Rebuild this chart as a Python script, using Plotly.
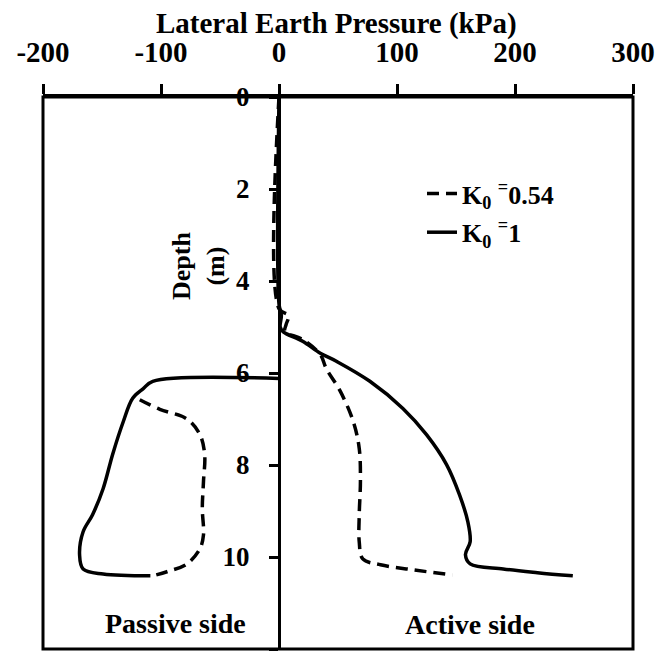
import plotly.graph_objects as go

# K0 = 1 (solid), active side
act_solid_x = [0, 0, 2, 1, 3.4, 20, 35, 49, 77, 105, 125, 142, 153, 160, 162, 158, 162, 190, 219, 249]
act_solid_y = [0, 4.5, 4.75, 5.0, 5.1, 5.31, 5.57, 5.75, 6.18, 6.77, 7.34, 7.99, 8.65, 9.23, 9.67, 9.95, 10.15, 10.26, 10.34, 10.41]
# K0 = 1 (solid), passive side
pas_solid_x = [0, -107, -115, -124, -132, -141, -149, -158, -166, -169, -166, -149, -109]
pas_solid_y = [6.12, 6.18, 6.34, 6.55, 7.06, 7.77, 8.51, 9.08, 9.45, 9.95, 10.26, 10.37, 10.41]

# K0 = 0.54 (dashed), active side
act_dash_x = [0, 0, 8, 6, 5, 20, 35, 40, 52, 63, 68, 69, 68, 68, 71, 86, 114, 147]
act_dash_y = [0, 4.6, 4.75, 4.95, 5.1, 5.27, 5.6, 5.9, 6.4, 7.06, 7.64, 8.36, 9.08, 9.67, 10.04, 10.17, 10.28, 10.39]
# K0 = 0.54 (dashed), passive side
pas_dash_x = [-118, -101, -78, -67, -63, -64, -65, -64, -67, -78, -95, -107]
pas_dash_y = [6.58, 6.79, 7.0, 7.34, 7.77, 8.36, 8.95, 9.52, 9.82, 10.15, 10.32, 10.41]

x_ticks = [-200, -100, 0, 100, 200, 300]
y_ticks = [0, 2, 4, 6, 8, 10, 12]

FONT = "Liberation Serif"
DASH = "12px,7px"

# plot box in page pixels: x 43..633, y 97..649 (page body has an 8px margin)
PW, PH = 590, 552


def px(x):
    return (x - 43) / PW


def py(y):
    return (649 - y) / PH


fig = go.Figure()

fig.add_trace(go.Scatter(x=act_dash_x, y=act_dash_y, mode="lines",
                         line=dict(color="black", width=3.5, dash=DASH, shape="spline"),
                         name="<b>K<sub>0</sub> <sup>=</sup>0.54</b>",
                         legendgroup="a"))
fig.add_trace(go.Scatter(x=pas_dash_x, y=pas_dash_y, mode="lines",
                         line=dict(color="black", width=3.5, dash=DASH, shape="spline"),
                         showlegend=False, legendgroup="a"))
fig.add_trace(go.Scatter(x=act_solid_x, y=act_solid_y, mode="lines",
                         line=dict(color="black", width=3.5, shape="spline"),
                         name="<b>K<sub>0</sub> <sup>=</sup>1</b>",
                         legendgroup="b"))
fig.add_trace(go.Scatter(x=pas_solid_x, y=pas_solid_y, mode="lines",
                         line=dict(color="black", width=3.5, shape="spline"),
                         showlegend=False, legendgroup="b"))

fig.update_layout(
    width=670, height=653,
    margin=dict(l=35, r=670 - 35 - PW, t=89, b=653 - 89 - PH),
    paper_bgcolor="white", plot_bgcolor="white",
    font=dict(family=FONT, size=26, color="black"),
    showlegend=True,
    legend=dict(x=px(422), y=py(170), xanchor="left", yanchor="top",
                bgcolor="rgba(0,0,0,0)", font=dict(size=26, family=FONT),
                tracegroupgap=2),
    xaxis=dict(side="top", range=[-200, 300], tickvals=x_ticks,
               ticktext=["<b>%d</b>" % v for v in x_ticks],
               ticks="outside", ticklen=10, tickwidth=3, tickcolor="black",
               showline=True, linewidth=3, linecolor="black",
               showgrid=False, zeroline=False, ticklabelstandoff=10,
               automargin=False, tickfont=dict(size=29, family=FONT)),
    yaxis=dict(range=[12, 0], tickvals=y_ticks,
               ticktext=["<b>%d</b>" % v for v in y_ticks],
               anchor="free", position=0.4,
               ticks="outside", ticklen=9, tickwidth=3, tickcolor="black",
               showline=True, linewidth=3, linecolor="black",
               showgrid=False, zeroline=False, ticklabelstandoff=14,
               automargin=False, tickfont=dict(size=27, family=FONT)),
    shapes=[dict(type="rect", xref="paper", yref="paper", x0=0, x1=1, y0=0, y1=1,
                 line=dict(color="black", width=3))],
    annotations=[
        dict(text="<b>Lateral Earth Pressure (kPa)</b>", xref="paper", yref="paper",
             x=px(336), y=py(24), xanchor="center", yanchor="middle",
             showarrow=False, font=dict(size=29, family=FONT)),
        dict(text="<b>Depth<br>(m)</b>", xref="paper", yref="paper",
             x=px(198), y=py(266), xanchor="center", yanchor="middle",
             textangle=-90, showarrow=False, font=dict(size=26, family=FONT)),
        dict(text="<b>Passive side</b>", xref="paper", yref="paper",
             x=px(175), y=py(623), xanchor="center", yanchor="middle",
             showarrow=False, font=dict(size=28, family=FONT)),
        dict(text="<b>Active side</b>", xref="paper", yref="paper",
             x=px(470), y=py(624), xanchor="center", yanchor="middle",
             showarrow=False, font=dict(size=28, family=FONT)),
    ],
)

fig.write_html("out.html")
